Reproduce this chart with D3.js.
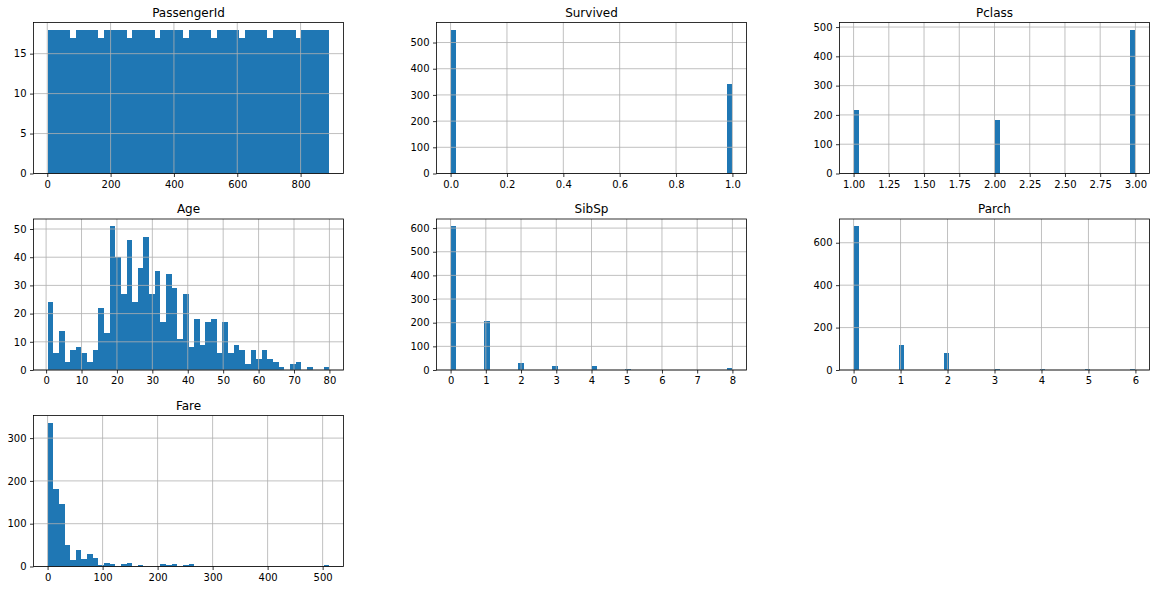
<!DOCTYPE html>
<html>
<head>
<meta charset="utf-8">
<script src="https://cdn.jsdelivr.net/npm/d3@7"></script>
<style>
  html, body { margin: 0; padding: 0; background: #ffffff; }
  svg { display: block; }
  text { font-family: "DejaVu Sans", sans-serif; fill: #000; }
</style>
</head>
<body>
<svg id="chart" width="1156" height="590"></svg>
<script>
// ---- Data: histogram counts (50 bins each) ----
const titles = ["PassengerId", "Survived", "Pclass", "Age", "SibSp", "Parch", "Fare"];

const passengerIdRange = [1, 891];
const passengerIdCounts = [18,18,18,18,17,18,18,18,18,17,18,18,18,18,17,18,18,18,18,17,18,18,18,18,17,
                           18,18,18,18,17,18,18,18,18,17,18,18,18,18,17,18,18,18,18,17,18,18,18,18,18];

const survivedRange = [0, 1];
const survivedCounts = [549,0,0,0,0,0,0,0,0,0,0,0,0,0,0,0,0,0,0,0,0,0,0,0,0,
                        0,0,0,0,0,0,0,0,0,0,0,0,0,0,0,0,0,0,0,0,0,0,0,0,342];

const pclassRange = [1, 3];
const pclassCounts = [216,0,0,0,0,0,0,0,0,0,0,0,0,0,0,0,0,0,0,0,0,0,0,0,0,
                      184,0,0,0,0,0,0,0,0,0,0,0,0,0,0,0,0,0,0,0,0,0,0,0,491];

const ageRange = [0.42, 80];
const ageCounts = [24,6,14,3,7,8,6,3,7,22,13,51,40,27,46,24,36,47,27,35,17,34,29,11,27,
                   8,18,9,17,18,6,17,6,9,7,2,7,4,7,4,3,1,0,2,3,0,1,0,0,1];

const sibspRange = [0, 8];
const sibspCounts = [608,0,0,0,0,0,209,0,0,0,0,0,28,0,0,0,0,0,16,0,0,0,0,0,0,
                     18,0,0,0,0,0,5,0,0,0,0,0,0,0,0,0,0,0,0,0,0,0,0,0,7];

const parchRange = [0, 6];
const parchCounts = [678,0,0,0,0,0,0,0,118,0,0,0,0,0,0,0,80,0,0,0,0,0,0,0,0,
                     5,0,0,0,0,0,0,0,4,0,0,0,0,0,0,0,5,0,0,0,0,0,0,0,1];

const fareRange = [0, 512.3292];
const fareCounts = [336,180,146,51,16,39,18,30,19,3,9,7,0,7,9,0,3,0,0,0,5,3,5,0,3,
                    7,0,0,0,0,0,0,0,0,0,0,0,0,0,0,0,0,0,0,0,0,0,0,0,3];

// ---- Tick labels ----
const passengerIdXTicks = [0, 200, 400, 600, 800];
const passengerIdYTicks = [0, 5, 10, 15];
const survivedXTicks = [0, 0.2, 0.4, 0.6, 0.8, 1.0];
const survivedYTicks = [0, 100, 200, 300, 400, 500];
const pclassXTicks = [1.0, 1.25, 1.5, 1.75, 2.0, 2.25, 2.5, 2.75, 3.0];
const pclassYTicks = [0, 100, 200, 300, 400, 500];
const ageXTicks = [0, 10, 20, 30, 40, 50, 60, 70, 80];
const ageYTicks = [0, 10, 20, 30, 40, 50];
const sibspXTicks = [0, 1, 2, 3, 4, 5, 6, 7, 8];
const sibspYTicks = [0, 100, 200, 300, 400, 500, 600];
const parchXTicks = [0, 1, 2, 3, 4, 5, 6];
const parchYTicks = [0, 200, 400, 600];
const fareXTicks = [0, 100, 200, 300, 400, 500];
const fareYTicks = [0, 100, 200, 300];

// ---- Panel specs (built from the arrays above) ----
const panels = [
  { title: titles[0], range: passengerIdRange, counts: passengerIdCounts, xt: passengerIdXTicks, yt: passengerIdYTicks, xf: "d", row: 0, col: 0 },
  { title: titles[1], range: survivedRange, counts: survivedCounts, xt: survivedXTicks, yt: survivedYTicks, xf: ".1f", row: 0, col: 1 },
  { title: titles[2], range: pclassRange, counts: pclassCounts, xt: pclassXTicks, yt: pclassYTicks, xf: ".2f", row: 0, col: 2 },
  { title: titles[3], range: ageRange, counts: ageCounts, xt: ageXTicks, yt: ageYTicks, xf: "d", row: 1, col: 0 },
  { title: titles[4], range: sibspRange, counts: sibspCounts, xt: sibspXTicks, yt: sibspYTicks, xf: "d", row: 1, col: 1 },
  { title: titles[5], range: parchRange, counts: parchCounts, xt: parchXTicks, yt: parchYTicks, xf: "d", row: 1, col: 2 },
  { title: titles[6], range: fareRange, counts: fareCounts, xt: fareXTicks, yt: fareYTicks, xf: "d", row: 2, col: 0 }
];

// ---- Layout ----
const colLeft = [33.5, 436.5, 839.5];
const rowTop = [22.5, 219, 415.5];
const pw = 310, ph = 151;
const barColor = "#1f77b4";
const gridColor = "#b0b0b0";

const svg = d3.select("#chart");
svg.append("rect").attr("width", 1156).attr("height", 590).attr("fill", "#ffffff");

panels.forEach(p => {
  const ox = colLeft[p.col], oy = rowTop[p.row];
  const g = svg.append("g").attr("transform", `translate(${ox},${oy})`);
  const [lo, hi] = p.range;
  const n = p.counts.length;
  const m = 0.05 * (hi - lo);
  const x = d3.scaleLinear().domain([lo - m, hi + m]).range([0, pw]);
  const y = d3.scaleLinear().domain([0, d3.max(p.counts) * 1.05]).range([ph, 0]);
  const bw = (hi - lo) / n;
  // snap bar edges to device pixels so adjacent bars touch without seams
  const sx = v => Math.round(ox + x(v)) - ox;
  const sy = v => Math.round(oy + y(v)) - oy;

  g.append("g").attr("shape-rendering", "crispEdges").selectAll("rect")
    .data(p.counts.map((c, i) => ({ c, i })).filter(d => d.c > 0))
    .join("rect")
    .attr("x", d => sx(lo + d.i * bw))
    .attr("width", d => Math.max(1, sx(lo + (d.i + 1) * bw) - sx(lo + d.i * bw)))
    .attr("y", d => Math.min(sy(d.c), sy(0) - 1))
    .attr("height", d => Math.max(1, sy(0) - sy(d.c)))
    .attr("fill", barColor);

  // grid (above bars, as in matplotlib)
  const grid = g.append("g").attr("stroke", gridColor).attr("stroke-width", 0.8);
  grid.selectAll("line.vx").data(p.xt).join("line")
    .attr("x1", d => x(d)).attr("x2", d => x(d)).attr("y1", 0).attr("y2", ph);
  grid.selectAll("line.hy").data(p.yt).join("line")
    .attr("x1", 0).attr("x2", pw).attr("y1", d => y(d)).attr("y2", d => y(d));

  // axes
  const xAxis = d3.axisBottom(x).tickValues(p.xt).tickFormat(d3.format(p.xf))
    .tickSize(3.5).tickSizeOuter(0).tickPadding(3.5);
  const yAxis = d3.axisLeft(y).tickValues(p.yt).tickFormat(d3.format("d"))
    .tickSize(3.5).tickSizeOuter(0).tickPadding(3.5);

  const gx = g.append("g").attr("transform", `translate(0,${ph})`).call(xAxis);
  const gy = g.append("g").call(yAxis);
  [gx, gy].forEach(a => {
    a.select(".domain").remove();
    a.selectAll(".tick line").attr("stroke", "#000").attr("stroke-width", 0.8);
    a.selectAll(".tick text").attr("font-size", 10).attr("font-family", "DejaVu Sans, sans-serif").attr("fill", "#000");
  });

  // spines
  g.append("rect").attr("x", 0).attr("y", 0).attr("width", pw).attr("height", ph)
    .attr("fill", "none").attr("stroke", "#000").attr("stroke-width", 0.8);

  // title
  g.append("text").attr("x", pw / 2).attr("y", -6)
    .attr("text-anchor", "middle").attr("font-size", 12)
    .text(p.title);
});
</script>
</body>
</html>
